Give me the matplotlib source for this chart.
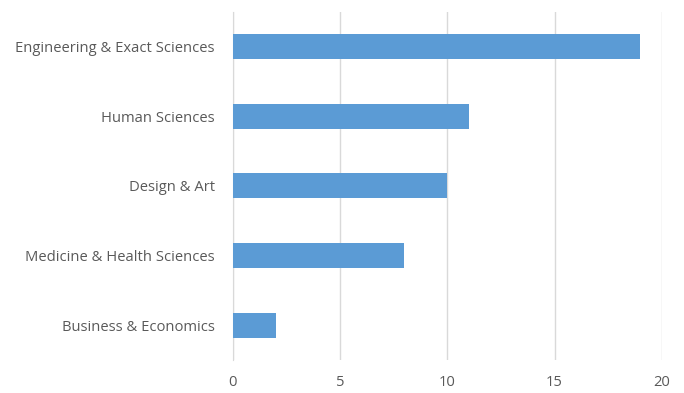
import matplotlib
matplotlib.use("Agg")
import matplotlib.pyplot as plt

categories = ["Engineering & Exact Sciences", "Human Sciences", "Design & Art",
              "Medicine & Health Sciences", "Business & Economics"]
values = [19, 11, 10, 8, 2]
xticks = [0, 5, 10, 15, 20]

plt.rcParams['font.family'] = ['Open Sans', 'DejaVu Sans']

fig = plt.figure(figsize=(6.84, 3.93), dpi=100)
ax = fig.add_axes([0.3406, 0.084, 0.6268, 0.8867])

pos = list(range(len(categories)))
ax.barh(pos, values, height=0.36, color="#5B9BD5", zorder=3)
ax.set_ylim(len(categories) - 0.5, -0.5)
ax.set_xlim(0, 20)
ax.set_xticks(xticks)
ax.set_yticks(pos)
ax.set_yticklabels(categories)

ax.grid(axis='x', color="#D9D9D9", linewidth=1, zorder=0)
for s in ["top", "right", "bottom"]:
    ax.spines[s].set_visible(False)
ax.spines["left"].set_color("#D9D9D9")
ax.tick_params(axis='both', length=0, colors="#595959", labelsize=10.6)
ax.tick_params(axis='y', pad=13)
ax.tick_params(axis='x', pad=11)

fig.savefig("out.png", dpi=100)
